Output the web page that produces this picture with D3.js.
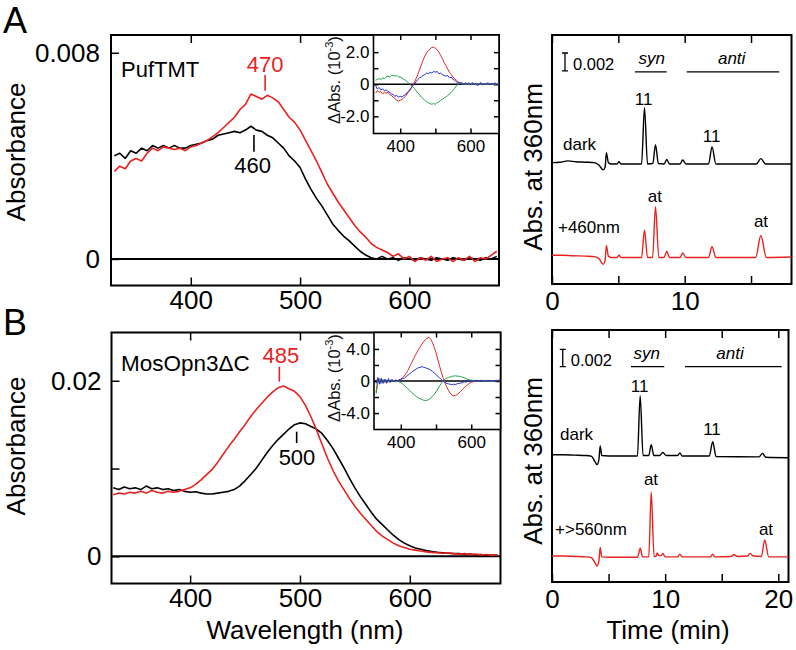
<!DOCTYPE html>
<html lang="en">
<head>
<meta charset="utf-8">
<title>PufTMT / MosOpn3 spectra and HPLC</title>
<script src="https://d3js.org/d3.v7.min.js"></script>
<style>
  body { margin: 0; background: #fff; }
  text { font-family: "Liberation Sans", Arial, sans-serif; fill: #000; }
</style>
</head>
<body>
<script>

// ---- wavelength grid (nm) shared by all spectra
var wl = [330,335,340,345,350,355,360,365,370,375,380,385,390,395,400,405,410,415,420,425,
          430,435,440,445,450,455,460,465,470,475,480,485,490,495,500,505,510,515,520,525,
          530,535,540,545,550,555,560,565,570,575,580,585,590,595,600,605,610,615,620,625,
          630,635,640,645,650,655,660,665,670,675,680];

// ---- panel A absorbance (x10^-3)
var pufDark = [4.0,4.1,3.9,4.2,4.1,4.3,4.2,4.4,4.3,4.4,4.3,4.4,4.3,4.3,4.4,4.45,4.5,4.6,4.65,4.8,
               4.85,4.9,4.95,4.9,5.0,5.15,5.0,4.95,4.8,4.7,4.5,4.3,4.0,3.8,3.55,3.1,2.7,2.35,2.05,1.7,
               1.35,1.1,0.88,0.7,0.5,0.3,0.15,0.05,0.0,0.1,0.0,0.05,-0.05,0.05,0.0,-0.05,0.05,0.0,-0.05,0.05,
               0.0,-0.05,0.05,0.0,-0.05,0.05,0.0,-0.05,0.05,0.0,0.1];
var pufLight = [3.4,3.6,3.5,3.8,3.9,3.8,4.1,4.3,4.2,4.35,4.3,4.25,4.3,4.2,4.35,4.4,4.5,4.6,4.75,4.9,
                5.1,5.3,5.5,5.8,6.0,6.4,6.3,6.2,6.35,6.25,6.1,5.8,5.5,5.3,5.0,4.6,4.2,3.8,3.35,2.9,
                2.55,2.2,1.9,1.6,1.3,1.05,0.85,0.6,0.45,0.35,0.25,0.1,0.2,0.0,0.1,-0.1,0.05,-0.05,0.1,-0.1,
                0.0,0.05,-0.1,0.05,-0.05,0.1,-0.1,0.05,0.0,0.15,0.3];

// ---- panel A difference spectra (x10^-3)
var pufDiffRed = [-0.55,-0.4,-0.5,-0.45,-0.6,-0.5,-0.55,-0.5,-0.65,-0.7,-0.8,-0.9,-1.0,-1.05,-1.0,-0.95,-0.85,-0.75,-0.6,-0.45,
                  -0.3,-0.1,0.1,0.35,0.6,0.9,1.2,1.5,1.75,1.95,2.1,2.2,2.3,2.3,2.25,2.15,2.0,1.8,1.6,1.35,
                  1.15,0.95,0.75,0.6,0.45,0.35,0.25,0.15,0.1,0.05,0.05,0.0,0.02,-0.02,0.0,0.02,0.0,-0.02,0.0,0.02,
                  0.0,-0.02,0.0,0.02,0.0,-0.02,0.0,0.02,0.0,-0.02,0.0];
var pufDiffGreen = [0.25,0.3,0.35,0.3,0.4,0.35,0.45,0.5,0.45,0.55,0.55,0.5,0.55,0.45,0.45,0.4,0.3,0.25,0.15,0.05,
                    -0.05,-0.15,-0.25,-0.4,-0.55,-0.65,-0.8,-0.9,-1.0,-1.1,-1.15,-1.2,-1.25,-1.2,-1.25,-1.15,-1.1,-1.0,-0.95,-0.85,
                    -0.8,-0.7,-0.6,-0.5,-0.4,-0.25,-0.1,0.0,0.05,0.0,0.02,0.0,0.02,0.0,-0.02,0.0,0.02,0.0,-0.02,0.0,
                    0.02,0.0,-0.02,0.0,0.02,0.0,-0.02,0.0,0.02,0.0,0.0];
var pufDiffBlue = [-0.1,-0.3,-0.2,-0.35,-0.3,-0.4,-0.35,-0.45,-0.5,-0.6,-0.65,-0.75,-0.7,-0.8,-0.75,-0.8,-0.7,-0.65,-0.5,-0.4,
                   -0.25,-0.1,0.0,0.15,0.3,0.4,0.45,0.55,0.6,0.7,0.65,0.75,0.7,0.8,0.75,0.8,0.65,0.7,0.6,0.55,
                   0.5,0.55,0.4,0.45,0.3,0.25,0.15,0.1,0.05,0.1,-0.05,0.1,0.0,0.1,-0.05,0.1,0.0,0.05,-0.1,0.05,
                   0.1,-0.05,0.05,0.0,0.1,-0.05,0.05,0.0,0.1,-0.05,0.05];

// ---- panel B absorbance (x10^-3)
var mosDark = [7.8,7.6,7.9,7.7,7.8,7.6,8.0,7.7,7.8,7.6,7.7,7.5,7.6,7.4,7.3,7.35,7.2,7.1,7.1,7.2,
               7.3,7.4,7.6,8.0,8.6,9.3,10.0,10.9,11.8,12.6,13.3,13.9,14.5,15.0,15.2,15.1,14.8,14.5,14.0,13.2,
               12.3,11.2,10.1,8.9,7.8,6.8,5.9,5.0,4.2,3.6,3.0,2.4,1.9,1.5,1.2,0.95,0.8,0.65,0.55,0.45,
               0.4,0.35,0.3,0.3,0.2,0.25,0.15,0.2,0.1,0.15,0.1];
var mosLight = [7.0,7.2,7.1,7.3,7.2,7.4,7.2,7.5,7.3,7.2,7.4,7.3,7.4,7.6,7.8,8.2,8.7,9.3,9.9,10.7,
                11.6,12.5,13.3,14.2,15.0,15.9,16.7,17.4,18.1,18.7,19.2,19.4,19.1,18.8,18.2,17.2,15.9,14.4,12.8,11.2,
                9.8,8.6,7.6,6.6,5.7,4.9,4.2,3.5,2.8,2.3,1.9,1.5,1.2,1.0,0.8,0.7,0.6,0.5,0.45,0.4,
                0.35,0.4,0.3,0.25,0.3,0.2,0.25,0.15,0.2,0.1,0.15];

// ---- panel B difference spectra (x10^-3)
var mosDiffRed = [-1.4,0.4,-0.3,0.3,-0.2,0.2,-0.3,0.1,-0.1,0.15,0.0,0.1,0.05,0.15,0.25,0.4,0.65,0.95,1.3,1.75,
                  2.2,2.65,3.1,3.5,3.9,4.25,4.6,4.9,5.15,5.35,5.45,5.2,4.8,4.2,3.5,2.7,1.9,1.1,0.4,-0.2,
                  -0.7,-1.15,-1.5,-1.75,-1.85,-1.8,-1.7,-1.5,-1.3,-1.05,-0.85,-0.65,-0.45,-0.3,-0.15,-0.1,0.0,0.1,-0.05,0.1,
                  0.0,0.05,-0.05,0.1,0.0,0.05,-0.05,0.1,0.0,0.05,0.1];
var mosDiffGreen = [-1.6,-0.2,0.3,-0.3,0.2,-0.2,0.1,-0.1,0.15,0.0,0.05,-0.05,0.0,-0.1,-0.2,-0.35,-0.55,-0.75,-0.95,-1.2,
                    -1.4,-1.6,-1.8,-1.95,-2.1,-2.2,-2.3,-2.4,-2.45,-2.4,-2.3,-2.15,-1.9,-1.65,-1.35,-1.0,-0.65,-0.3,0.0,0.2,
                    0.35,0.45,0.5,0.6,0.6,0.65,0.6,0.6,0.55,0.45,0.4,0.3,0.2,0.15,0.1,0.05,0.0,0.05,-0.05,0.05,
                    0.0,0.05,-0.05,0.05,0.0,0.05,-0.05,0.05,0.0,0.05,0.0];
var mosDiffBlue = [-0.3,0.4,-0.4,0.3,-0.3,0.2,-0.2,0.3,-0.2,0.2,-0.1,0.15,0.0,0.1,0.15,0.3,0.35,0.55,0.7,0.9,
                   1.05,1.25,1.35,1.55,1.65,1.7,1.8,1.7,1.65,1.55,1.5,1.35,1.2,1.0,0.8,0.6,0.4,0.2,0.0,-0.15,
                   -0.3,-0.35,-0.4,-0.45,-0.4,-0.45,-0.35,-0.3,-0.25,-0.2,-0.1,-0.15,0.0,-0.05,0.05,-0.05,0.1,0.0,0.05,-0.05,
                   0.1,0.0,0.05,-0.05,0.1,0.0,0.05,-0.05,0.1,0.05,0.15];

// ---- HPLC traces: [time (min), absorbance above own baseline (x10^-3)]
var hplcDarkA = [[0,0],[0.6,0.05],[1.2,0.2],[1.8,0.1],[2.5,0.05],[3.2,0],[3.55,-0.3],[3.85,-0.8],[4.0,-0.5],[4.1,1.1],
                 [4.25,0.0],[4.5,-0.15],[4.9,-0.15],[5.05,0.1],[5.2,-0.15],[6.75,-0.15],[6.97,6.1],[7.2,-0.15],[7.6,-0.1],[7.8,2.0],
                 [8.02,-0.1],[8.45,-0.15],[8.65,0.35],[8.85,-0.15],[9.65,-0.15],[9.85,0.3],[10.1,-0.15],[11.8,-0.15],[12.06,1.75],[12.35,-0.15],
                 [15.4,-0.15],[15.74,0.45],[16.1,-0.15],[18.05,-0.15]];
var hplcLightA = [[0,0],[0.8,0],[1.5,-0.05],[2.5,-0.1],[3.2,-0.15],[3.55,-0.4],[3.85,-1.0],[4.0,-0.6],[4.1,1.1],[4.25,-0.1],
                  [4.5,-0.25],[4.9,-0.25],[5.05,0.0],[5.2,-0.25],[6.75,-0.25],[6.97,2.8],[7.2,-0.25],[7.58,-0.25],[7.8,5.4],[8.05,-0.25],
                  [8.45,-0.25],[8.65,0.45],[8.85,-0.25],[9.65,-0.25],[9.85,0.25],[10.1,-0.25],[11.8,-0.25],[12.06,0.95],[12.35,-0.25],
                  [15.35,-0.25],[15.74,2.2],[16.15,-0.25],[18.05,-0.2]];
var hplcDarkB = [[0,0],[1,0],[2,-0.05],[3,-0.1],[3.5,-0.2],[3.8,-0.8],[3.98,-1.15],[4.15,-0.5],[4.26,1.0],[4.4,-0.1],
                 [5,-0.15],[7.55,-0.15],[7.79,6.8],[8.05,-0.1],[8.55,-0.1],[8.77,1.15],[9.0,-0.1],[9.5,-0.1],[9.8,0.25],[10.1,-0.1],
                 [11.1,-0.1],[11.3,0.2],[11.5,-0.15],[13.9,-0.15],[14.2,1.5],[14.5,-0.2],[18.3,-0.25],[18.6,0.15],[18.9,-0.3],[20.9,-0.35]];
var hplcLightB = [[0,0],[1,0],[2,-0.05],[3,-0.1],[3.5,-0.2],[3.8,-0.8],[3.98,-1.15],[4.15,-0.5],[4.26,1.0],[4.4,-0.1],
                  [5,-0.15],[7.55,-0.15],[7.8,0.9],[8.0,-0.1],[8.55,-0.1],[8.77,7.4],[9.02,-0.05],[9.2,0],[9.3,0.35],[9.45,0.05],
                  [9.65,0.05],[9.8,0.3],[10.0,-0.1],[11.1,-0.1],[11.3,0.2],[11.5,-0.1],[14.0,-0.1],[14.2,0.2],[14.4,-0.1],[15.8,-0.05],
                  [16.1,0.15],[16.4,-0.05],[17.3,0.0],[17.5,0.3],[17.8,0.0],[18.5,-0.05],[18.8,1.85],[19.15,-0.1],[20.9,-0.1]];

var RED = "#e8231f", GREEN = "#22a34a", BLUE = "#1f2fe0";

var w = 796, h = 650;
var svg = d3.select("body").append("svg")
            .attr("width", w)
            .attr("height", h);

// generic framed plot: rect + inward ticks on the chosen sides
function framed(xs, ys, o) {
  var g = svg.append("g");
  var x0 = xs.range()[0], x1 = xs.range()[1], y0 = ys.range()[1], y1 = ys.range()[0];

  if (o.white) {
    g.append("rect").attr("x", x0).attr("y", y0).attr("width", x1 - x0).attr("height", y1 - y0)
     .style("fill", "#fff");
  }

  var fmtX = function(d) { return o.xLabels.indexOf(d) >= 0 ? d : ""; };

  g.append("g").attr("transform", "translate(0," + y1 + ")")
   .call(d3.axisBottom(xs).tickValues(o.xTicks).tickSize(-o.tick).tickPadding(o.xPad).tickFormat(fmtX))
   .call(styleAxis, o.font);
  g.append("g").attr("transform", "translate(0," + y0 + ")")
   .call(d3.axisTop(xs).tickValues(o.xTicks).tickSize(-o.tick).tickFormat(""))
   .call(styleAxis, o.font);

  if (o.yTicks) {
    g.append("g").attr("transform", "translate(" + x0 + ",0)")
     .call(d3.axisLeft(ys).tickValues(o.yTicks).tickSize(-o.tick).tickPadding(o.yPad)
             .tickFormat(function(d) { return o.yFmt[d] || ""; }))
     .call(styleAxis, o.font);
    if (o.rightTicks) {
      g.append("g").attr("transform", "translate(" + x1 + ",0)")
       .call(d3.axisRight(ys).tickValues(o.yTicks).tickSize(-o.tick).tickFormat(""))
       .call(styleAxis, o.font);
    }
  }

  g.append("rect").attr("x", x0).attr("y", y0).attr("width", x1 - x0).attr("height", y1 - y0)
   .style("fill", "none").style("stroke", "#000").style("stroke-width", o.frameW);
  return g;
}

function styleAxis(sel, font) {
  sel.select(".domain").remove();
  sel.selectAll("line").style("stroke", "#000").style("stroke-width", "1.5px");
  sel.selectAll("text").style("font-size", font + "px").attr("font-family", null);
}

function spectrum(g, xs, ys, vals, color, width) {
  var line = d3.line()
               .x(function(d, i) { return xs(wl[i]); })
               .y(function(d) { return ys(d); });
  g.append("path").datum(vals)
   .attr("d", line)
   .style("fill", "none").style("stroke", color).style("stroke-width", width)
   .style("stroke-linejoin", "round");
}

function zeroLine(g, xs, ys, width) {
  g.append("line")
   .attr("x1", xs.range()[0]).attr("x2", xs.range()[1])
   .attr("y1", ys(0)).attr("y2", ys(0))
   .style("stroke", "#000").style("stroke-width", width);
}

function label(txt, x, y, size, anchor, color) {
  return svg.append("text")
            .attr("x", x).attr("y", y)
            .attr("text-anchor", anchor || "start")
            .style("font-size", size + "px")
            .style("fill", color || "#000")
            .text(txt);
}

function peakMark(xs, ys, nm, top, bottom, color) {
  svg.append("line")
     .attr("x1", xs(nm)).attr("x2", xs(nm))
     .attr("y1", ys(top)).attr("y2", ys(bottom))
     .style("stroke", color).style("stroke-width", 1.6);
}

function insetLabel(cx, cy) {
  var t = svg.append("text")
             .attr("transform", "translate(" + cx + "," + cy + ") rotate(-90)")
             .attr("text-anchor", "middle")
             .style("font-size", "16.5px")
             .style("fill", "#111");
  t.append("tspan").text("\u0394Abs. (10");
  t.append("tspan").attr("dy", -7).style("font-size", "11px").text("-3");
  t.append("tspan").attr("dy", 7).text(")");
}

// ================= Panel A : spectra =================
var xA = d3.scaleLinear().domain([327, 682]).range([111, 499]);
var yA = d3.scaleLinear().domain([-1.03, 8.69]).range([285.5, 35]);
var gA = framed(xA, yA, {xTicks: [400, 500, 600], xLabels: [400, 500, 600], tick: 8, xPad: 5,
                         yTicks: [0, 8], yFmt: {0: "0", 8: "0.008"}, yPad: 11, font: 26, frameW: 2});
zeroLine(gA, xA, yA, 2);
spectrum(gA, xA, yA, pufDark, "#000", 1.6);
spectrum(gA, xA, yA, pufLight, RED, 1.6);

label("PufTMT", 121, 77, 22);
label("470", xA(468), yA(7.27), 22, "middle", RED);
peakMark(xA, yA, 468, 7.14, 6.53, RED);
label("460", xA(456.5), yA(3.32), 22, "middle");
peakMark(xA, yA, 457.8, 4.81, 4.16, "#000");

// inset A
var xIA = d3.scaleLinear().domain([324, 681]).range([373.5, 499]);
var yIA = d3.scaleLinear().domain([-3.07, 3.07]).range([133.5, 35]);
var gIA = framed(xIA, yIA, {xTicks: [400, 500, 600], xLabels: [400, 600], tick: 5, xPad: 6,
                            yTicks: [-2, -1, 0, 1, 2], yFmt: {"-2": "-2.0", "0": "0", "2": "2.0"}, yPad: 4,
                            rightTicks: true, font: 17, frameW: 1.6, white: true});
zeroLine(gIA, xIA, yIA, 1.6);
spectrum(gIA, xIA, yIA, pufDiffRed, RED, 1);
spectrum(gIA, xIA, yIA, pufDiffGreen, GREEN, 1);
spectrum(gIA, xIA, yIA, pufDiffBlue, BLUE, 1);
insetLabel(340, 80);

// ================= Panel B : spectra =================
var xB = d3.scaleLinear().domain([328.4, 682.6]).range([111.5, 500.5]);
var yB = d3.scaleLinear().domain([-3.1, 25.5]).range([583.5, 332.5]);
var gB = framed(xB, yB, {xTicks: [400, 500, 600], xLabels: [400, 500, 600], tick: 8, xPad: 5,
                         yTicks: [0, 10, 20], yFmt: {0: "0", 20: "0.02"}, yPad: 10, font: 26, frameW: 2});
zeroLine(gB, xB, yB, 2);
spectrum(gB, xB, yB, mosDark, "#000", 1.6);
spectrum(gB, xB, yB, mosLight, RED, 1.6);

label("MosOpn3\u0394C", 121, 371, 22.5);
label("485", xB(482.7), yB(21.99), 22, "middle", RED);
peakMark(xB, yB, 481.2, 21.6, 19.9, RED);
label("500", xB(497.3), yB(10.4), 22, "middle");
peakMark(xB, yB, 497, 14.2, 12.9, "#000");

// inset B
var xIB = d3.scaleLinear().domain([324, 683]).range([374, 500.5]);
var yIB = d3.scaleLinear().domain([-6.05, 6.05]).range([429.5, 332.5]);
var gIB = framed(xIB, yIB, {xTicks: [400, 500, 600], xLabels: [400, 600], tick: 5, xPad: 6,
                            yTicks: [-4, -2, 0, 2, 4], yFmt: {"-4": "-4.0", "0": "0", "4": "4.0"}, yPad: 4,
                            rightTicks: true, font: 17, frameW: 1.6, white: true});
zeroLine(gIB, xIB, yIB, 1.6);
spectrum(gIB, xIB, yIB, mosDiffRed, RED, 1);
spectrum(gIB, xIB, yIB, mosDiffGreen, GREEN, 1);
spectrum(gIB, xIB, yIB, mosDiffBlue, BLUE, 1);
insetLabel(340, 378);

// ================= HPLC panels =================
function hplc(ts, ms, o) {
  var g = framed(ts, ms, {xTicks: o.ticks, xLabels: o.labels, tick: 8, xPad: 7.5, font: 26, frameW: 2});

  var line = d3.line()
               .curve(d3.curveMonotoneX)
               .x(function(d) { return ts(d[0]); });
  g.append("path").datum(o.dark)
   .attr("d", line.y(function(d) { return ms(d[1] + o.darkOff); }))
   .style("fill", "none").style("stroke", "#000").style("stroke-width", 1.4);
  g.append("path").datum(o.light)
   .attr("d", line.y(function(d) { return ms(d[1] + o.lightOff); }))
   .style("fill", "none").style("stroke", RED).style("stroke-width", 1.4);

  // 0.002 scale bar
  var bx = ts(o.bar[0]);
  svg.append("path")
     .attr("d", "M" + (bx - 3) + "," + ms(o.bar[1]) + "h6M" + bx + "," + ms(o.bar[1]) +
                "V" + ms(o.bar[1] - 2) + "M" + (bx - 3) + "," + ms(o.bar[1] - 2) + "h6")
     .style("fill", "none").style("stroke", "#000").style("stroke-width", 1.3);
  label("0.002", bx + 8, ms(o.bar[1] - 2) - 0.5, 16.5);

  // syn / anti brackets
  [["syn", o.syn], ["anti", o.anti]].forEach(function(s) {
    svg.append("line")
       .attr("x1", ts(s[1][0])).attr("x2", ts(s[1][1]))
       .attr("y1", ms(o.lineY)).attr("y2", ms(o.lineY))
       .style("stroke", "#000").style("stroke-width", 1.3);
    label(s[0], ts(s[1][2]), ms(o.lineY) - 7.5, 17, "middle").style("font-style", "italic");
  });

  o.notes.forEach(function(n) {
    label(n[0], ts(n[1]), ms(n[2]), 17, n[3], "#000");
  });
  return g;
}

var tA = d3.scaleLinear().domain([0, 18.05]).range([552, 791.5]);
var mA = d3.scaleLinear().domain([0, 27.7]).range([284, 35]);
hplc(tA, mA, {ticks: [0, 5, 10, 15], labels: [0, 10],
              dark: hplcDarkA, light: hplcLightA, darkOff: 13.5, lightOff: 3.2,
              bar: [0.98, 25.7], lineY: 23.6, syn: [6.25, 8.64, 7.51], anti: [10.15, 17.13, 13.54],
              notes: [["dark", 0.83, 14.9, "start"], ["11", 6.91, 19.9, "middle"], ["11", 12.03, 15.83, "middle"],
                      ["+460nm", 0.45, 5.67, "start"], ["at", 7.76, 9.15, "middle"], ["at", 15.75, 6.37, "middle"]]});

var tB = d3.scaleLinear().domain([0, 20.9]).range([552, 788.5]);
var mB = d3.scaleLinear().domain([0, 29.1]).range([582, 330]);
hplc(tB, mB, {ticks: [0, 5, 10, 15, 20], labels: [0, 10, 20],
              dark: hplcDarkB, light: hplcLightB, darkOff: 14.7, lightOff: 3.0,
              bar: [0.95, 26.87], lineY: 24.86, syn: [6.98, 9.92, 8.37], anti: [11.75, 20.3, 15.73],
              notes: [["dark", 0.71, 16.4, "start"], ["11", 7.75, 21.97, "middle"], ["11", 14.14, 16.97, "middle"],
                      ["+>560nm", 0.27, 5.43, "start"], ["at", 8.75, 11.2, "middle"], ["at", 18.91, 5.43, "middle"]]});

// ================= axis titles & panel letters =================
label("A", 3, 33, 36);
label("B", 3, 335, 36);

function vtitle(txt, x, y) {
  svg.append("text")
     .attr("transform", "translate(" + x + "," + y + ") rotate(-90)")
     .attr("text-anchor", "middle")
     .style("font-size", "26px")
     .text(txt);
}
vtitle("Absorbance", 25, 152);
vtitle("Absorbance", 25, 446);
vtitle("Abs. at 360nm", 542, 167);
vtitle("Abs. at 360nm", 542, 461);

label("Wavelength (nm)", 305, 639, 26, "middle");
label("Time (min)", 668, 639, 26, "middle");

</script>
</body>
</html>
